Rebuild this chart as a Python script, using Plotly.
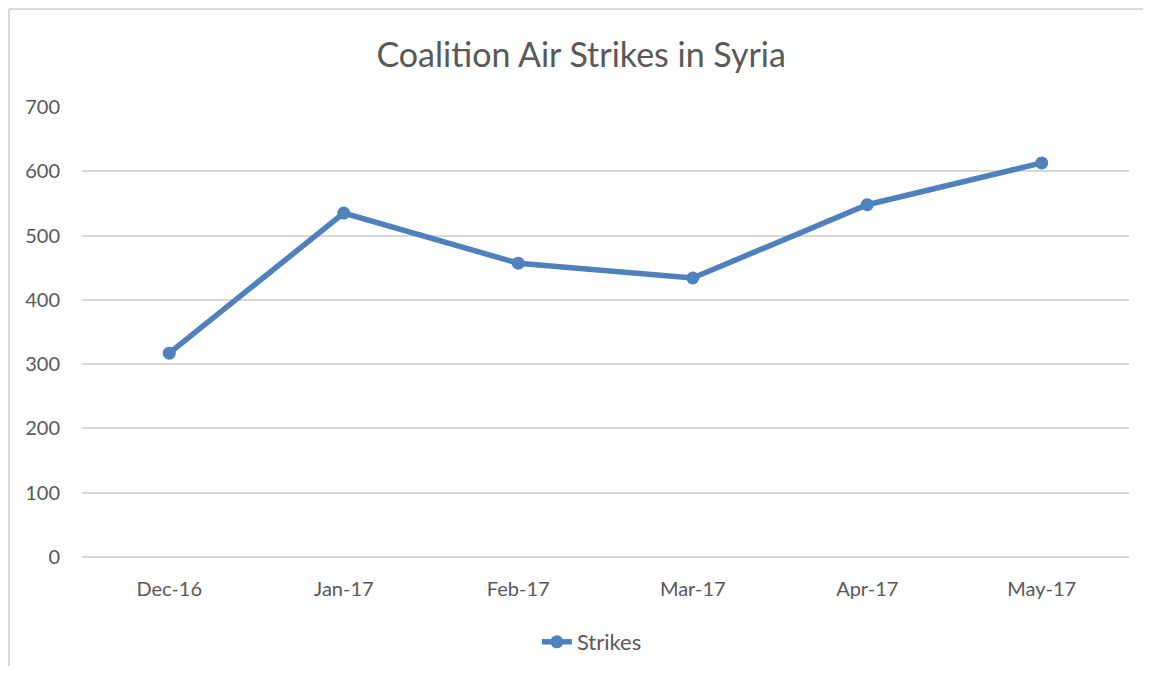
import plotly.graph_objects as go

months = ["Dec-16", "Jan-17", "Feb-17", "Mar-17", "Apr-17", "May-17"]
strikes = [317, 535, 457, 434, 548, 613]
y_ticks = [0, 100, 200, 300, 400, 500, 600, 700]

line_color = "#4F81BD"
text_color = "#595959"
grid_color = "#D9D9D9"
font_family = "Lato, Carlito, 'Open Sans', sans-serif"

W, H = 1135, 658
L, R, T, B = 74, 14, 99, 109
pw, ph = W - L - R, H - T - B

fig = go.Figure()
fig.add_trace(go.Scatter(
    x=months, y=strikes, mode="lines+markers", name="Strikes",
    line=dict(color=line_color, width=5.5),
    marker=dict(color=line_color, size=13),
))

fig.update_layout(
    width=W, height=H,
    paper_bgcolor="white", plot_bgcolor="white",
    margin=dict(l=L, r=R, t=T, b=B, autoexpand=False),
    font=dict(family=font_family, color=text_color, size=20),
    title=dict(text="Coalition Air Strikes in Syria", x=0.505, xanchor="center",
               y=1 - 47 / H, yanchor="middle",
               font=dict(size=34, color=text_color, family=font_family)),
    showlegend=True,
    legend=dict(orientation="h", x=0.487, xanchor="center", y=-(634 - (T + ph)) / ph,
                yanchor="middle", font=dict(size=22, color=text_color)),
    xaxis=dict(type="category", range=[-0.5, len(months) - 0.5], showgrid=False,
               showline=False, zeroline=False, ticks="", ticklabelstandoff=18,
               tickfont=dict(size=20, color=text_color)),
    yaxis=dict(range=[0, 700], tickvals=y_ticks, showgrid=True, gridcolor=grid_color,
               gridwidth=1.5, zeroline=True, zerolinecolor=grid_color, zerolinewidth=1.5,
               showline=False, ticks="", ticklabelstandoff=21,
               tickfont=dict(size=20, color=text_color)),
    shapes=[
        dict(type="line", xref="paper", yref="paper",
             x0=-(L - 1) / pw, x1=1 + R / pw, y0=1 + (T - 1) / ph, y1=1 + (T - 1) / ph,
             line=dict(color="#D9D9D9", width=2), layer="below"),
        dict(type="line", xref="paper", yref="paper",
             x0=-(L - 1) / pw, x1=-(L - 1) / pw, y0=-B / ph, y1=1 + (T - 1) / ph,
             line=dict(color="#D9D9D9", width=2), layer="below"),
    ],
)

fig.write_html("out.html")
